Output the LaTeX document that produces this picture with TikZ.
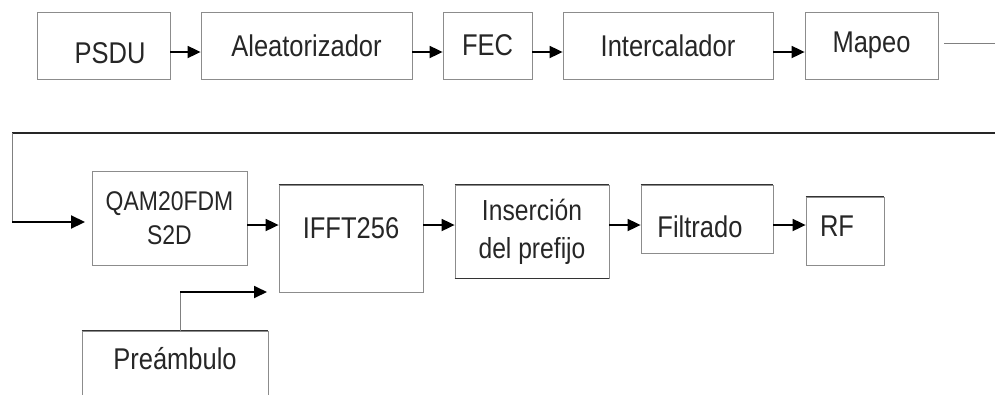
\documentclass[tikz,border=0pt]{standalone}
\usepackage{fontspec}
\setmainfont[FakeStretch=0.85]{Liberation Sans}
\usetikzlibrary{arrows.meta}

\begin{document}
\begin{tikzpicture}[x=1pt,y=-1pt,
    blk/.style={draw=black!45, line width=0.8pt, inner sep=0pt, align=center,
        text=black!85, font=\fontsize{30}{34}\selectfont},
    arr/.style={line width=1.8pt, -{Triangle[length=13pt,width=12pt]}},
    topln/.style={line width=1.3pt, black!80},
    feed/.style={line width=0.8pt, black!50}]
\useasboundingbox (0,0) rectangle (995,394);

% primera fila
\node[blk, minimum width=133pt, minimum height=67pt, text height=35pt, text depth=0pt] (psdu) at (103.5,45.5) {\rule{13pt}{0pt}PSDU};
\node[blk, minimum width=211pt, minimum height=67pt] (alea) at (306.5,45.5) {Aleatorizador};
\node[blk, minimum width=89pt, minimum height=67pt] (fec) at (487.5,45.5) {FEC};
\node[blk, minimum width=210pt, minimum height=67pt] (inter) at (668,45.5) {Intercalador};
\node[blk, minimum width=133pt, minimum height=67pt] (mapeo) at (871.5,45.5) {Mapeo};

% segunda fila
\node[blk, minimum width=155pt, minimum height=94pt, font=\fontsize{27}{34}\selectfont] (qam) at (169.5,218) {QAM20FDM\\S2D};
\node[blk, minimum width=144pt, minimum height=107pt, text height=22pt, text depth=22pt] (ifft) at (351,238.5) {IFFT256};
\node[blk, minimum width=154pt, minimum height=93pt, font=\fontsize{29}{38}\selectfont] (ins) at (532,231.5) {Inserción\\del prefijo};
\node[blk, minimum width=132pt, minimum height=68pt, text height=36pt, text depth=0pt] (filt) at (707,219) {Filtrado\rule{14pt}{0pt}};
\node[blk, minimum width=78pt, minimum height=68pt, text height=22pt, text depth=12pt] (rf) at (845,231) {RF\rule{16pt}{0pt}};
\node[blk, minimum width=186pt, minimum height=82pt, text height=22pt, text depth=28pt] (pre) at (175,372) {Preámbulo};

\draw[topln] (ifft.north west) -- (ifft.north east);
\draw[topln] (ins.north west) -- (ins.north east) (ins.south west) -- (ins.south east);
\draw[topln] (filt.north west) -- (filt.north east);
\draw[topln] (rf.north west) -- (rf.north east);
\draw[topln] (pre.north west) -- (pre.north east);

% flechas
\coordinate (rowa) at (0,52);
\coordinate (rowb) at (0,225);
\draw[arr] (psdu.east |- rowa) -- (alea.west |- rowa);
\draw[arr] (alea.east |- rowa) -- (fec.west |- rowa);
\draw[arr] (fec.east |- rowa) -- (inter.west |- rowa);
\draw[arr] (inter.east |- rowa) -- (mapeo.west |- rowa);
\draw[arr] (qam.east |- rowb) -- (ifft.west |- rowb);
\draw[arr] (ifft.east |- rowb) -- (ins.west |- rowb);
\draw[arr] (ins.east |- rowb) -- (filt.west |- rowb);
\draw[arr] (filt.east |- rowb) -- (rf.west |- rowb);

% retorno de Mapeo
\coordinate (m1) at (944,43);
\coordinate (m2) at (995,43);
\coordinate (r1) at (995,133);
\coordinate (r2) at (12,133);
\coordinate (r3) at (12,222);
\coordinate (q1) at (85,222);
\draw[feed] (m1) -- (m2);
\draw[line width=1.6pt, black!85] (r1) -- (r2);
\draw[feed] (r2) -- (r3);
\draw[line width=2.2pt, -{Triangle[length=14pt,width=13pt]}] (r3) -- (q1);

% preambulo
\coordinate (p1) at (180,292);
\coordinate (p2) at (267,292);
\draw[feed] (pre.north -| p1) -- (p1);
\draw[arr] (p1) -- (p2);
\end{tikzpicture}
\end{document}
